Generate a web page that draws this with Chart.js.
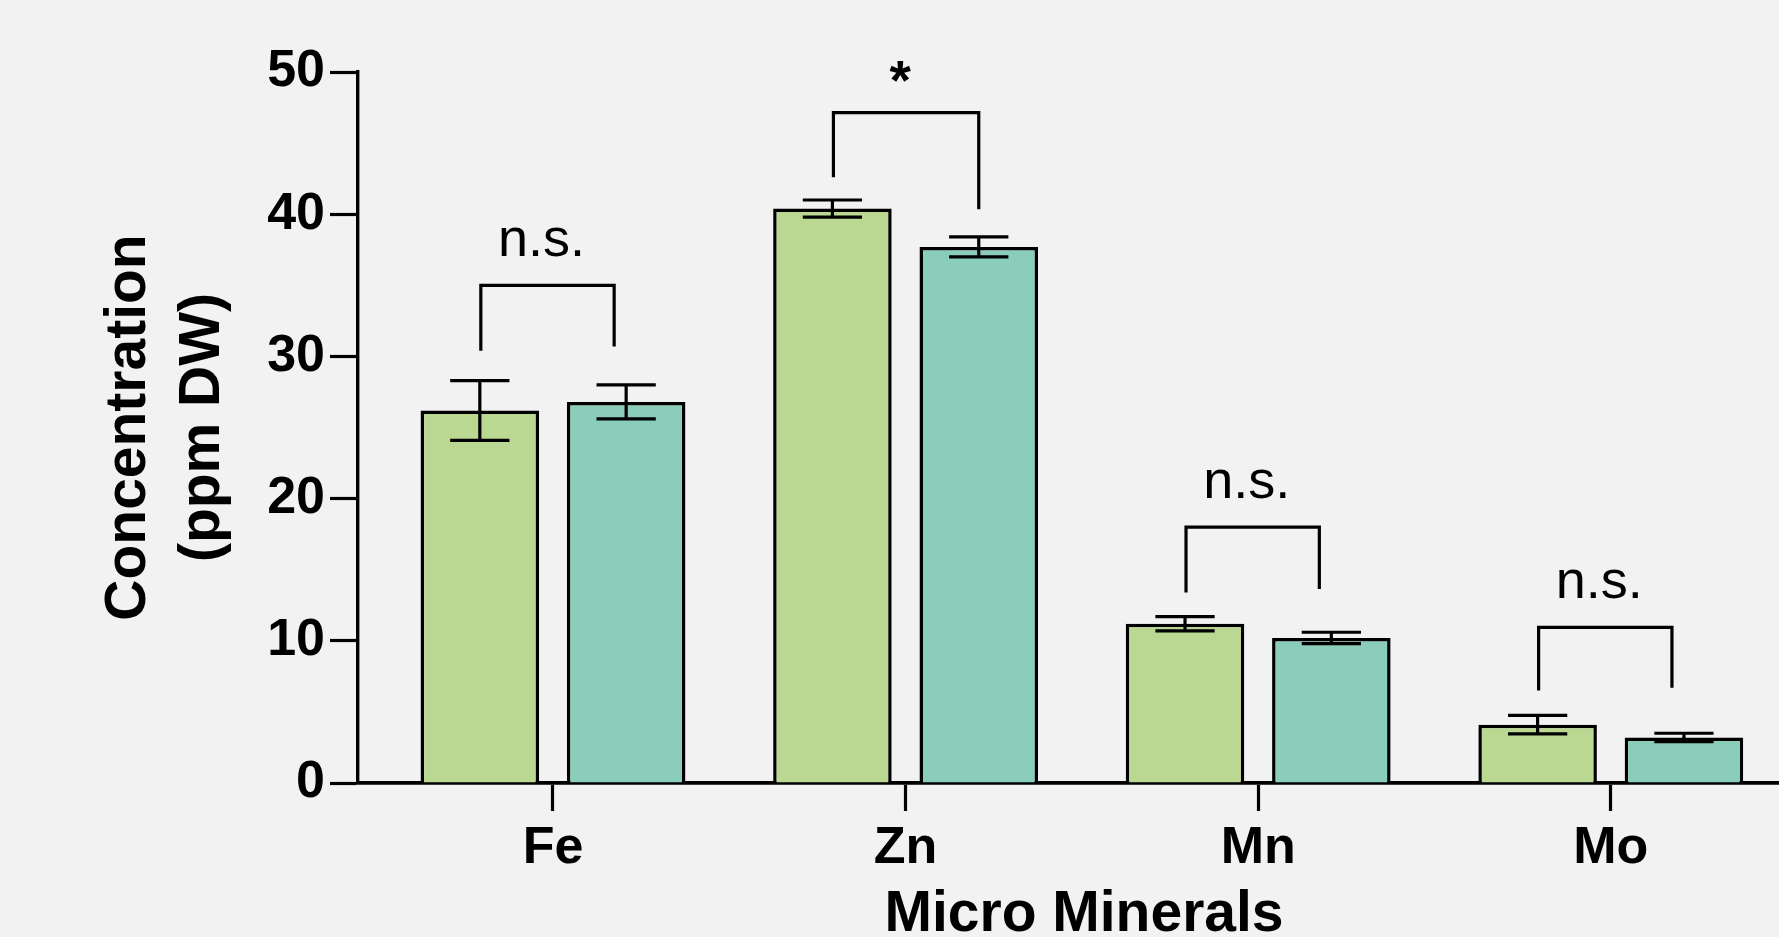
<!DOCTYPE html>
<html>
<head>
<meta charset="utf-8">
<script src="https://cdn.jsdelivr.net/npm/chart.js@4"></script>
<style>
  html, body { margin: 0; padding: 0; background: #f2f2f2; overflow: hidden; }
  canvas { display: block; }
</style>
</head>
<body>
<canvas id="mineralChart" width="1810" height="960"></canvas>
<script>
    // micro mineral concentrations, mean and SD for the two groups
    const categories = ['Fe', 'Zn', 'Mn', 'Mo'];
    const groupA = [26.2, 40.4, 11.2, 4.1];
    const groupAErr = [2.1, 0.6, 0.5, 0.65];
    const groupB = [26.8, 37.7, 10.2, 3.2];
    const groupBErr = [1.2, 0.7, 0.4, 0.3];
    const yTicks = [0, 10, 20, 30, 40, 50];

    // significance brackets: label, top of bracket, bottom of each leg
    const sigLabels = ['n.s.', '*', 'n.s.', 'n.s.'];
    const bracketTop = [35.0, 47.15, 18.0, 10.95];
    const bracketLegA = [30.4, 42.6, 13.4, 6.5];
    const bracketLegB = [30.7, 40.35, 13.65, 6.7];

    const FONT = "'Liberation Sans', Arial, sans-serif";

    const annotate = {
        id: 'annotate',
        afterDatasetsDraw(chart) {
            const ctx = chart.ctx;
            const y = chart.scales.y;
            ctx.save();
            ctx.strokeStyle = '#000';
            ctx.lineWidth = 3.2;
            // error bars
            [[groupA, groupAErr], [groupB, groupBErr]].forEach(([means, errs], d) => {
                chart.getDatasetMeta(d).data.forEach((bar, i) => {
                    const hi = y.getPixelForValue(means[i] + errs[i]);
                    const lo = y.getPixelForValue(means[i] - errs[i]);
                    const half = bar.width / 4;
                    ctx.beginPath();
                    ctx.moveTo(bar.x, hi); ctx.lineTo(bar.x, lo);
                    ctx.moveTo(bar.x - half, hi); ctx.lineTo(bar.x + half, hi);
                    ctx.moveTo(bar.x - half, lo); ctx.lineTo(bar.x + half, lo);
                    ctx.stroke();
                });
            });
            // brackets and labels
            const barsA = chart.getDatasetMeta(0).data;
            const barsB = chart.getDatasetMeta(1).data;
            ctx.lineJoin = 'miter';
            categories.forEach((c, i) => {
                const x1 = barsA[i].x + 1;
                const x2 = barsB[i].x - (sigLabels[i] === '*' ? 0 : 12);
                const top = y.getPixelForValue(bracketTop[i]);
                ctx.beginPath();
                ctx.moveTo(x1, y.getPixelForValue(bracketLegA[i]));
                ctx.lineTo(x1, top);
                ctx.lineTo(x2, top);
                ctx.lineTo(x2, y.getPixelForValue(bracketLegB[i]));
                ctx.stroke();

                const mid = (x1 + x2) / 2 - 6;
                ctx.fillStyle = '#000';
                ctx.textAlign = 'center';
                ctx.textBaseline = 'alphabetic';
                if (sigLabels[i] === '*') {
                    ctx.font = 'bold 55px ' + FONT;
                    ctx.fillText(sigLabels[i], mid, top - 14);
                } else {
                    ctx.font = '54px ' + FONT;
                    ctx.fillText(sigLabels[i], mid, top - 29);
                }
            });
            ctx.restore();
        }
    };

    const ctx = document.getElementById('mineralChart').getContext('2d');
    const mineralChart = new Chart(ctx, {
        type: 'bar',
        data: {
            datasets: [{
                label: 'Group 1',
                data: categories.map((c, i) => ({ x: i, y: groupA[i] })),
                backgroundColor: '#bbd893',
                borderColor: '#000',
                borderWidth: 3.5,
            }, {
                label: 'Group 2',
                data: categories.map((c, i) => ({ x: i, y: groupB[i] })),
                backgroundColor: '#8acdba',
                borderColor: '#000',
                borderWidth: 3.5,
            }]
        },
        options: {
            responsive: false,
            animation: false,
            categoryPercentage: 0.83,
            barPercentage: 0.81,
            layout: { padding: { top: 72, left: 0, right: 0, bottom: 0 } },
            plugins: {
                legend: { display: false },
                tooltip: { enabled: false }
            },
            scales: {
                x: {
                    type: 'linear',
                    min: -0.553,
                    max: 3.565,
                    offset: false,
                    z: 1,
                    afterFit: s => { s.height = 177; },
                    afterBuildTicks: s => { s.ticks = categories.map((c, i) => ({ value: i })); },
                    ticks: {
                        callback: v => categories[v],
                        color: '#000',
                        font: { family: FONT, size: 52, weight: 'bold' },
                        padding: 6,
                        maxRotation: 0,
                        autoSkip: false
                    },
                    grid: {
                        offset: false,
                        drawOnChartArea: false,
                        tickLength: 28,
                        tickWidth: 3.2,
                        tickColor: '#000'
                    },
                    border: { display: true, color: '#000', width: 3.8 },
                    title: {
                        display: true,
                        text: 'Micro Minerals',
                        color: '#000',
                        font: { family: FONT, size: 57, weight: 'bold', lineHeight: 1.2 },
                        padding: { top: 0, bottom: 11 }
                    }
                },
                y: {
                    min: 0,
                    max: 50,
                    z: 1,
                    afterFit: s => { s.width = 358; },
                    afterBuildTicks: s => { s.ticks = yTicks.map(v => ({ value: v })); },
                    ticks: {
                        color: '#000',
                        font: { family: FONT, size: 52, weight: 'bold' },
                        padding: 5
                    },
                    grid: {
                        drawOnChartArea: false,
                        tickLength: 28,
                        tickWidth: 3.2,
                        tickColor: '#000'
                    },
                    border: { display: true, color: '#000', width: 3.4 },
                    title: {
                        display: true,
                        text: ['Concentration', '(ppm DW)'],
                        color: '#000',
                        font: { family: FONT, size: 57, weight: 'bold', lineHeight: 1.29 },
                        padding: { top: 93, bottom: 0 }
                    }
                }
            }
        },
        plugins: [annotate]
    });
</script>
</body>
</html>
